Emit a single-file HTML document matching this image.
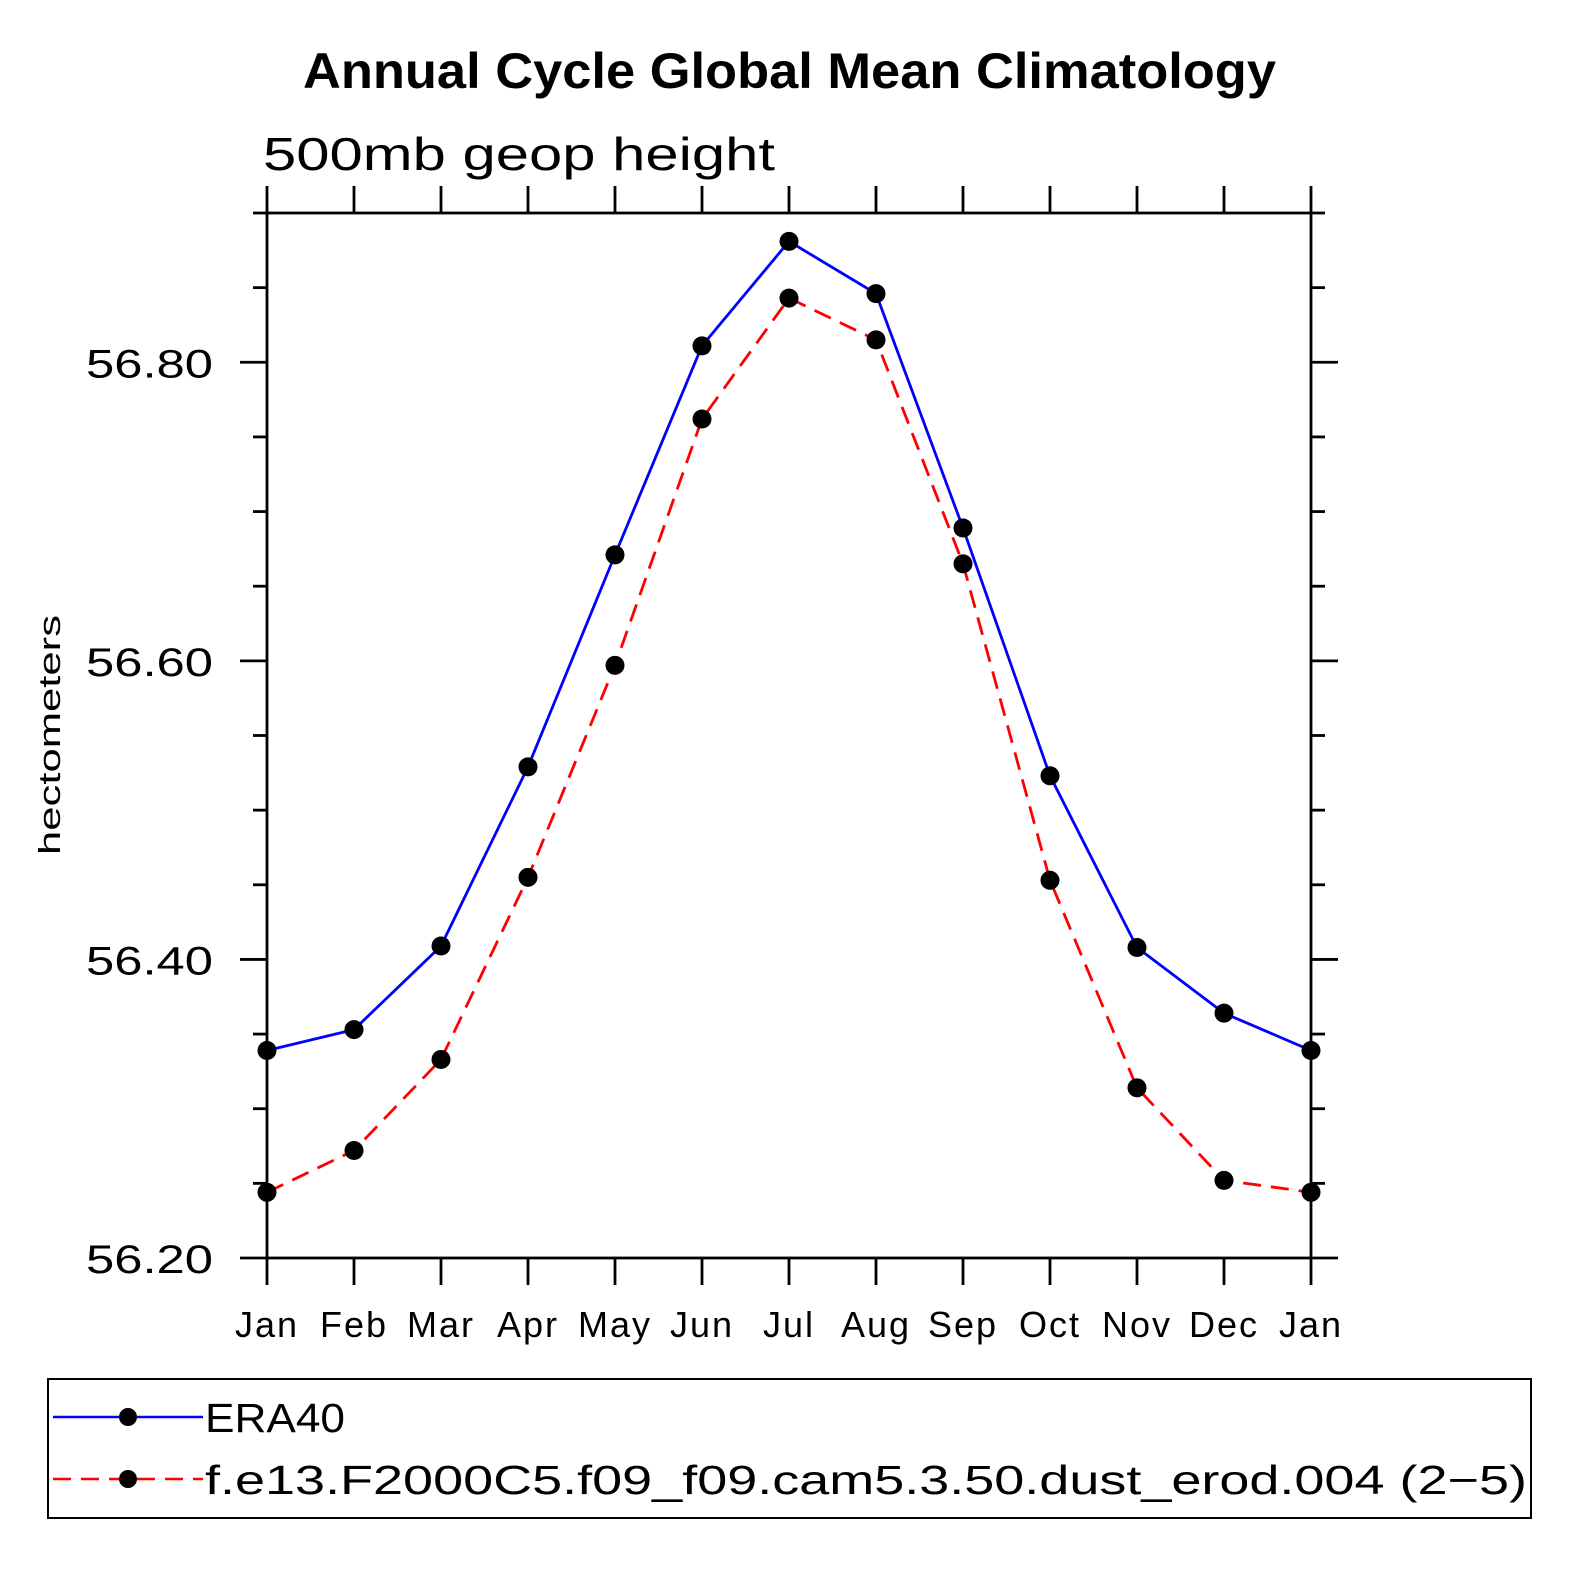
<!DOCTYPE html>
<html><head><meta charset="utf-8"><style>
body{margin:0;background:#fff;}
svg{display:block;font-family:"Liberation Sans",sans-serif;}
</style></head><body>
<svg id="chart" width="1574" height="1574" viewBox="0 0 1574 1574">
<text x="303" y="88" textLength="973" lengthAdjust="spacingAndGlyphs" font-size="50" font-weight="bold">Annual Cycle Global Mean Climatology</text>
<text x="263" y="170" textLength="512" lengthAdjust="spacingAndGlyphs" font-size="46">500mb geop height</text>
<text transform="translate(60,735) rotate(-90)" text-anchor="middle" textLength="240" lengthAdjust="spacingAndGlyphs" font-size="31">hectometers</text>
<g id="axes"></g>
<g id="series"></g>
<rect x="48" y="1379" width="1483" height="139" fill="none" stroke="#000" stroke-width="2"/>
<g>
<line x1="53" y1="1417" x2="203" y2="1417" stroke="#0000ff" stroke-width="2.5"/>
<circle cx="128" cy="1417" r="9" fill="#000"/>
<text x="205" y="1432" font-size="41" textLength="140" lengthAdjust="spacingAndGlyphs">ERA40</text>
</g>
<g>
<line x1="53" y1="1479" x2="203" y2="1479" stroke="#ff0000" stroke-width="2.5" stroke-dasharray="18,10"/>
<circle cx="128" cy="1479" r="9" fill="#000"/>
<text x="205" y="1494" font-size="41" textLength="1322" lengthAdjust="spacingAndGlyphs">f.e13.F2000C5.f09_f09.cam5.3.50.dust_erod.004 (2−5)</text>
</g>
</svg>
<script>
const months=["Jan","Feb","Mar","Apr","May","Jun","Jul","Aug","Sep","Oct","Nov","Dec","Jan"];
const era40=[56.339,56.353,56.409,56.529,56.671,56.811,56.881,56.846,56.689,56.523,56.408,56.364,56.339];
const model=[56.244,56.272,56.333,56.455,56.597,56.762,56.843,56.815,56.665,56.453,56.314,56.252,56.244];
const yTicks=[56.20,56.40,56.60,56.80];
const yMin=56.2,yMax=56.9;
const L=267,R=1311,T=213,B=1258;
const NS="http://www.w3.org/2000/svg";
const xs=i=>L+(R-L)*i/(months.length-1);
const ys=v=>B-(v-yMin)/(yMax-yMin)*(B-T);
function mk(tag,attrs,parent){const e=document.createElementNS(NS,tag);for(const k in attrs)e.setAttribute(k,attrs[k]);parent.appendChild(e);return e;}
const ax=document.getElementById('axes');
const frame=mk('rect',{x:L,y:T,width:R-L,height:B-T,fill:'none',stroke:'#000','stroke-width':2.8},ax);


months.forEach((m,i)=>{
  const x=xs(i);
  mk('line',{x1:x,y1:B,x2:x,y2:B+27,stroke:'#000','stroke-width':2.8},ax);
  mk('line',{x1:x,y1:T,x2:x,y2:T-27,stroke:'#000','stroke-width':2.8},ax);
  const t=mk('text',{x:x,y:1337,'text-anchor':'middle','font-size':36,'letter-spacing':'2'},ax);
  t.textContent=m;
  
  
});
for(let v=yMin;v<=yMax+1e-9;v+=0.05){
  const y=ys(v);const major=Math.abs(Math.round(v*10)/10-v)<1e-6&&Math.round(v*10)%2===0;
  const len=major?27:14;
  mk('line',{x1:L,y1:y,x2:L-len,y2:y,stroke:'#000','stroke-width':2.8},ax);
  mk('line',{x1:R,y1:y,x2:R+len,y2:y,stroke:'#000','stroke-width':2.8},ax);
}
yTicks.forEach(v=>{
  const t=mk('text',{x:86,y:ys(v)+15,'font-size':40,textLength:127,lengthAdjust:'spacingAndGlyphs'},ax);
  t.textContent=v.toFixed(2);
  
  
});
const sg=document.getElementById('series');
function drawSeries(data,color,dash,name){
  const p=mk('polyline',{points:data.map((v,i)=>xs(i)+','+ys(v)).join(' '),fill:'none',stroke:color,'stroke-width':2.8},sg);
  if(dash)p.setAttribute('stroke-dasharray',dash);
  
  
  data.forEach((v,i)=>{
    const c=mk('circle',{cx:xs(i),cy:ys(v),r:9.5,fill:'#000'},sg);
    
    
  });
}
drawSeries(era40,'#0000ff',null,'era40');
drawSeries(model,'#ff0000','18,10','model');
</script>
</body></html>
